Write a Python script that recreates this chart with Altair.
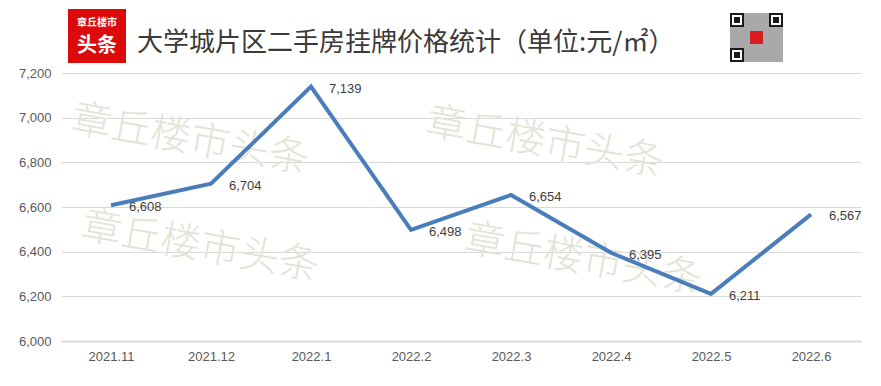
import altair as alt
import pandas as pd

months = ["2021.11", "2021.12", "2022.1", "2022.2", "2022.3", "2022.4", "2022.5", "2022.6"]
prices = [6608, 6704, 7139, 6498, 6654, 6395, 6211, 6567]
y_ticks = [6000, 6200, 6400, 6600, 6800, 7000, 7200]
title_text = "大学城片区二手房挂牌价格统计（单位:元/㎡）"
watermark = "章丘楼市头条"

df = pd.DataFrame({"month": months, "price": prices})
one = pd.DataFrame({"k": [0]})

x_enc = alt.X("month:N", sort=months,
              scale=alt.Scale(type="point", padding=0.5),
              axis=alt.Axis(title=None, labelAngle=0, ticks=False, domainColor="#d9d9d9",
                            domainWidth=2, labelColor="#595959", labelFontSize=13,
                            labelFont="Liberation Sans", labelPadding=9))
y_enc = alt.Y("price:Q", scale=alt.Scale(domain=[6000, 7200], nice=False, zero=False),
              axis=alt.Axis(title=None, values=y_ticks, format=",.0f", domain=False, ticks=False,
                            gridColor="#d9d9d9", gridWidth=1, labelColor="#595959",
                            labelFontSize=13, labelFont="Liberation Sans", labelPadding=10))

base = alt.Chart(df)

axes_line = base.mark_line(color="#4a7ebb", strokeWidth=0, opacity=0).encode(x=x_enc, y=y_enc)
line = base.mark_line(color="#4a7ebb", strokeWidth=4, strokeJoin="miter").encode(
    x=alt.X("month:N", sort=months), y="price:Q")
labels = base.mark_text(align="left", baseline="middle", dx=18, dy=2, fontSize=13,
                        color="#404040", font="Liberation Sans").encode(
    x=alt.X("month:N", sort=months), y="price:Q", text=alt.Text("price:Q", format=",.0f"))

layers = []
# watermarks
for cx, cy in [(129, 67), (484, 70), (139, 174), (522, 187)]:
    layers.append(alt.Chart(one).mark_text(text=watermark, fontSize=40, angle=10,
                                           color="#e1e5d5", font="Noto Sans CJK SC",
                                           fontWeight=300, align="center", baseline="middle").encode(
        x=alt.value(cx), y=alt.value(cy)))

# logo
logo_bg = alt.Chart(one).mark_rect(color="#dc0a0a").encode(
    x=alt.value(7), x2=alt.value(65), y=alt.value(-64), y2=alt.value(-10))
logo_t1 = alt.Chart(one).mark_text(text="章丘楼市", fontSize=10, color="white", fontWeight="bold",
                                   font="Noto Sans CJK SC", baseline="middle").encode(
    x=alt.value(36), y=alt.value(-50))
logo_t2 = alt.Chart(one).mark_text(text="头条", fontSize=20, color="white", fontWeight="bold",
                                   font="Noto Sans CJK SC", baseline="middle").encode(
    x=alt.value(36), y=alt.value(-27))
title = alt.Chart(one).mark_text(text=title_text, fontSize=26, color="#3a3a3a", align="left",
                                 baseline="middle", font="Noto Sans CJK SC").encode(
    x=alt.value(76), y=alt.value(-30))

# QR-like badge
qr = [alt.Chart(one).mark_rect(color="#8c8c8c", opacity=0.75).encode(
    x=alt.value(669), x2=alt.value(722), y=alt.value(-60), y2=alt.value(-11))]
for fx, fy in [(669, -60), (708, -60), (669, -25)]:
    qr.append(alt.Chart(one).mark_rect(color="#1a1a1a").encode(
        x=alt.value(fx), x2=alt.value(fx + 14), y=alt.value(fy), y2=alt.value(fy + 14)))
    qr.append(alt.Chart(one).mark_rect(color="white").encode(
        x=alt.value(fx + 2), x2=alt.value(fx + 12), y=alt.value(fy + 2), y2=alt.value(fy + 12)))
    qr.append(alt.Chart(one).mark_rect(color="#1a1a1a").encode(
        x=alt.value(fx + 4), x2=alt.value(fx + 10), y=alt.value(fy + 4), y2=alt.value(fy + 10)))
qr.append(alt.Chart(one).mark_rect(color="#d81e1e").encode(
    x=alt.value(689), x2=alt.value(702), y=alt.value(-42), y2=alt.value(-29)))

chart = alt.layer(axes_line, *layers, line, labels, logo_bg, logo_t1, logo_t2, title, *qr).properties(
    width=800, height=268, autosize=alt.AutoSizeParams(type="none"),
    padding={"left": 53, "top": 65, "right": 12, "bottom": 37},
    background="white"
).configure_view(stroke=None)

chart.save("out.html", embed_options={"renderer": "svg", "actions": False})
